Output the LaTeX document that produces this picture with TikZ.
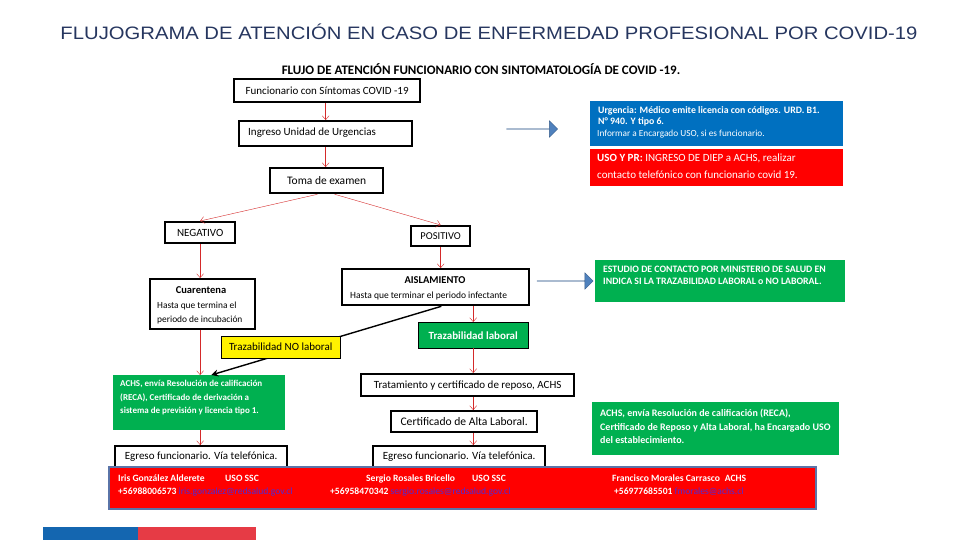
\documentclass[tikz,border=0pt]{standalone}
\usepackage{fontspec}
\setmainfont{Carlito}
\newfontfamily\titlefont{Liberation Sans}
\usepackage{tikz}
\usetikzlibrary{positioning, arrows.meta, shapes.arrows, calc}
\usepackage{xcolor}
\definecolor{titleblue}{HTML}{26365F}
\definecolor{boxblue}{HTML}{0070C0}
\definecolor{boxgreen}{HTML}{00B050}
\definecolor{arrowblue}{HTML}{4F81BD}
\definecolor{arrowedge}{HTML}{385D8A}
\definecolor{linkblue}{HTML}{4B2BD8}
\definecolor{flowred}{HTML}{D42A2A}
\definecolor{barframe}{HTML}{5A74A8}
\definecolor{flagblue}{HTML}{1466B0}
\definecolor{flagred}{HTML}{E63B45}

\begin{document}
\begin{tikzpicture}[
    x=1pt, y=-1pt,
    >=Stealth,
    every node/.style={font=\fontsize{11}{12}\selectfont},
    blackbox/.style={draw, line width=2.3pt, fill=white, inner sep=0pt, anchor=north west, align=center},
    colbox/.style={inner sep=0pt, anchor=north west, text=white},
    txt/.style={inner sep=0pt, anchor=west, align=left},
    flow/.style={->, flowred, thin, >={Straight Barb[length=4pt,width=7pt]}},
    bigarrow/.style={single arrow, fill=arrowblue, draw=arrowedge, thin, inner sep=0pt,
                     single arrow head extend=8pt, single arrow tip angle=90, minimum height=51pt, minimum width=14pt},
]
\useasboundingbox (0,0) rectangle (960,540);

% ── Titles ──
\node[text=titleblue, font=\titlefont\fontsize{18}{19}\selectfont] (title) at (489,32)
    {\scalebox{1.125}[1]{FLUJOGRAMA DE ATENCIÓN EN CASO DE ENFERMEDAD PROFESIONAL POR COVID-19}};
\node[font=\bfseries\fontsize{13}{14}\selectfont] (subtitle) at (481,69)
    {FLUJO DE ATENCIÓN FUNCIONARIO CON SINTOMATOLOGÍA DE COVID -19.};

% ── Main column ──
\node[blackbox, minimum width=186pt, minimum height=23pt] (sintomas) at (233,78)
    {Funcionario con Síntomas COVID -19};
\node[blackbox, minimum width=173pt, minimum height=25pt] (urgencias) at (238,120) {};
\node[txt] at (248,132.5) {Ingreso Unidad de Urgencias};
\node[blackbox, minimum width=113pt, minimum height=25pt, font=\fontsize{11.5}{12}\selectfont] (examen) at (269,167)
    {Toma de examen};

\node[blackbox, minimum width=70pt, minimum height=21pt, font=\fontsize{11}{12}\selectfont] (negativo) at (164,221)
    {NEGATIVO};
\node[blackbox, minimum width=59pt, minimum height=20pt, font=\fontsize{10.5}{11}\selectfont] (positivo) at (410,225)
    {POSITIVO};

% ── Negative branch ──
\node[blackbox, minimum width=105pt, minimum height=50pt] (cuarentena) at (149,278) {};
\node[font=\bfseries\fontsize{10.5}{11}\selectfont] at (201,290) {Cuarentena};
\node[txt, font=\fontsize{9.4}{10}\selectfont] at (157,306) {Hasta que termina el};
\node[txt, font=\fontsize{9.4}{10}\selectfont] at (157,320) {periodo de incubación};

% ── Positive branch ──
\node[blackbox, minimum width=187pt, minimum height=36pt] (aislamiento) at (341,268) {};
\node[font=\bfseries\fontsize{10.5}{11}\selectfont] at (435,280) {AISLAMIENTO};
\node[txt, font=\fontsize{9.5}{10}\selectfont] at (350,296) {Hasta que terminar el periodo infectante};

\node[colbox, fill=boxgreen, draw=black, thin, minimum width=110pt, minimum height=26pt,
      font=\bfseries\fontsize{11}{12}\selectfont] (tlaboral) at (418,322) {Trazabilidad laboral};

% black connector runs under the yellow box
\node[colbox, fill=boxgreen, minimum width=172pt, minimum height=55pt] (achsneg) at (113,375) {};
\draw[->, line width=1.4pt, >={Stealth[length=7pt,width=7pt]}]
    ($(aislamiento.south west)!0.53!(aislamiento.south east)$) -- ($(achsneg.north west)!0.57!(achsneg.north east)$);

\node[inner sep=0pt, anchor=north west, fill=yellow, draw=black, thin, minimum width=119pt, minimum height=22pt,
      font=\fontsize{11}{12}\selectfont] (tnolaboral) at (221,336) {Trazabilidad NO laboral};

\node[txt, text=white, font=\bfseries\fontsize{9}{13.5}\selectfont] at (120,398)
    {ACHS, envía Resolución de calificación\\(RECA), Certificado de derivación a\\sistema de previsión y licencia tipo 1.};

\node[blackbox, minimum width=213pt, minimum height=22pt] (tratamiento) at (360,373)
    {Tratamiento y certificado de reposo, ACHS};
\node[blackbox, minimum width=146pt, minimum height=21pt, font=\fontsize{11.6}{12}\selectfont] (alta) at (390,410)
    {Certificado de Alta Laboral.};

\node[blackbox, minimum width=172pt, minimum height=21pt, font=\fontsize{11}{12}\selectfont] (egresoneg) at (114,445)
    {Egreso funcionario. Vía telefónica.};
\node[blackbox, minimum width=172pt, minimum height=21pt, font=\fontsize{11}{12}\selectfont] (egresopos) at (372,445)
    {Egreso funcionario. Vía telefónica.};

% ── Right column ──
\node[bigarrow] (flecha1) at (532,129) {};
\node[colbox, fill=boxblue, minimum width=253pt, minimum height=45pt] (urgencia) at (590,101) {};
\node[txt, text=white, font=\bfseries\fontsize{9.8}{11.5}\selectfont] at (598,116.5)
    {Urgencia: Médico emite licencia con códigos. URD. B1.\\N° 940. Y tipo 6.};
\node[txt, text=white, font=\fontsize{9.3}{10}\selectfont] at (597,134)
    {Informar a Encargado USO, si es funcionario.};

\node[colbox, fill=red, minimum width=253pt, minimum height=37pt] (diep) at (590,149) {};
\node[txt, text=white, font=\fontsize{11}{17}\selectfont] at (597,166.5)
    {\textbf{USO Y PR:} INGRESO DE DIEP a ACHS, realizar\\contacto telefónico con funcionario covid 19.};

\node[bigarrow, minimum height=56pt] (flecha2) at (565,281) {};
\node[colbox, fill=boxgreen, minimum width=250pt, minimum height=42pt] (estudio) at (595,260) {};
\node[txt, text=white, font=\bfseries\fontsize{9.8}{12}\selectfont] at (603,275)
    {ESTUDIO DE CONTACTO POR MINISTERIO DE SALUD EN\\INDICA SI LA TRAZABILIDAD LABORAL o NO LABORAL.};

\node[colbox, fill=boxgreen, minimum width=247pt, minimum height=53pt] (achspos) at (592,402) {};
\node[txt, text=white, font=\bfseries\fontsize{10}{13.5}\selectfont] at (600,426.5)
    {ACHS, envía Resolución de calificación (RECA),\\Certificado de Reposo y Alta Laboral, ha Encargado USO\\del establecimiento.};

% ── Contact bar ──
\node[colbox, fill=red, draw=barframe, line width=1.6pt, minimum width=707pt, minimum height=42pt] (contactos) at (108,466) {};
\begin{scope}[every node/.append style={txt, anchor=base west, text=white, font=\bfseries\fontsize{9.6}{10}\selectfont}]
\node at (118,481.5) {Iris González Alderete};
\node at (225,481.5) {USO SSC};
\node at (118,494.5) {+56988006573 \textcolor{linkblue}{\mdseries iris.gonzalez@redsalud.gov.cl}};
\node at (366,481.5) {Sergio Rosales Bricello};
\node at (472,481.5) {USO SSC};
\node at (330,494.5) {+56958470342 \textcolor{linkblue}{\mdseries sergio.rosales@redsalud.gov.cl}};
\node at (612,481.5) {Francisco Morales Carrasco\enspace ACHS};
\node at (614,494.5) {+56977685501 \textcolor{linkblue}{\mdseries fmorales@achs.cl}};
\end{scope}

% ── Flag strip ──
\fill[flagblue] (43,527) rectangle (138,540);
\fill[flagred] (138,527) rectangle (256,540);

% ── Arrows ──
\draw[flow] (sintomas.south -| urgencias.north) -- (urgencias.north);
\draw[flow] (urgencias.south) -- (urgencias.south |- examen.north);
\draw[flow] ($(examen.south west)!0.42!(examen.south east)$) -- (negativo.north);
\draw[flow] ($(examen.south west)!0.57!(examen.south east)$) -- (positivo.north);
\draw[flow] (negativo.south) -- (negativo.south |- cuarentena.north);
\draw[flow] (positivo.south) -- (positivo.south |- aislamiento.north);
\draw[flow] (aislamiento.south -| tlaboral.north) -- (tlaboral.north);
\draw[flow] (cuarentena.south -| negativo.south) -- (negativo.south |- achsneg.north);
\draw[flow] (tlaboral.south) -- (tlaboral.south |- tratamiento.north);
\draw[flow] (tratamiento.south -| tlaboral.south) -- (tlaboral.south |- alta.north);
\draw[flow] (alta.south -| tlaboral.south) -- (tlaboral.south |- egresopos.north);
\draw[flow] (achsneg.south -| negativo.south) -- (negativo.south |- egresoneg.north);

\end{tikzpicture}
\end{document}
